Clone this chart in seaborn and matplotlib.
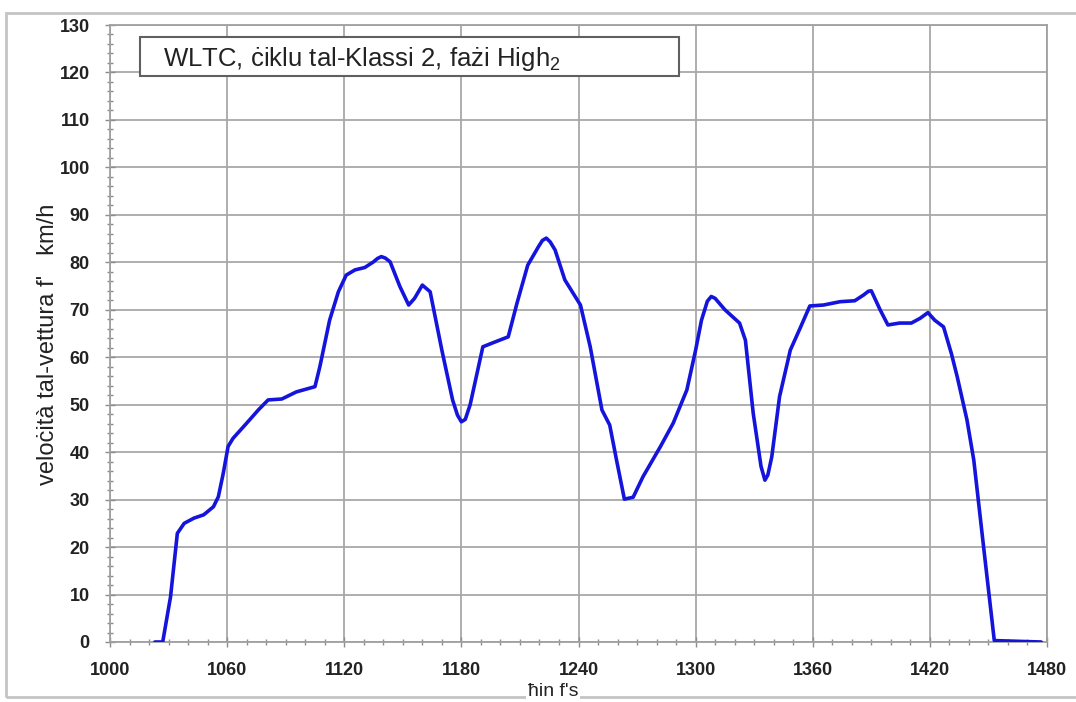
import matplotlib
matplotlib.use('Agg')
import matplotlib.pyplot as plt
import seaborn as sns
import pandas as pd
from matplotlib.patches import Rectangle
from matplotlib.ticker import MultipleLocator

# ---- data ----
time_s = [1023, 1027, 1031, 1034.5, 1038, 1043, 1048, 1053, 1055.5, 1058,
          1060.5, 1063, 1070, 1076, 1081, 1088, 1095.5, 1105, 1107.5, 1112.5,
          1117, 1121, 1125.5, 1130.5, 1135, 1137, 1139, 1141, 1143.5, 1148.5,
          1153, 1156, 1160, 1164, 1170, 1175.5, 1178, 1180, 1182, 1184.5,
          1191, 1196.5, 1204, 1208.5, 1214, 1219.5, 1221.5, 1223.5, 1225.5, 1228,
          1233, 1241, 1246, 1252, 1256, 1259.5, 1263.5, 1268, 1273, 1282,
          1288.5, 1295.5, 1300, 1303, 1306, 1308, 1310, 1315, 1322.5, 1325.5,
          1329.5, 1333.5, 1335.5, 1337, 1339, 1343, 1348.5, 1353.5, 1358.5, 1365.5,
          1374, 1381.5, 1386, 1388.5, 1390, 1394.5, 1398.5, 1404.5, 1410.5, 1415,
          1419, 1422.5, 1427, 1431, 1434, 1439, 1442.5, 1447.5, 1453, 1477]
speed_kmh = [0, 0, 9.5, 22.9, 25.0, 26.1, 26.8, 28.5, 30.6, 35.5,
             41.2, 42.9, 46.1, 48.9, 51.0, 51.2, 52.7, 53.8, 58.0, 67.8,
             73.8, 77.3, 78.4, 78.9, 80.1, 80.8, 81.2, 80.9, 80.1, 74.9,
             71.0, 72.4, 75.2, 73.8, 61.5, 51.0, 47.8, 46.4, 46.9, 50.0,
             62.2, 63.1, 64.3, 71.4, 79.4, 83.3, 84.6, 85.1, 84.3, 82.6,
             76.3, 71.0, 62.2, 48.9, 45.7, 38.3, 30.1, 30.5, 34.8, 41.2,
             46.1, 53.1, 61.5, 67.8, 71.8, 72.8, 72.4, 70.0, 67.2, 63.6,
             48.2, 37.0, 34.1, 35.2, 39.0, 51.7, 61.5, 66.1, 70.8, 71.0,
             71.7, 71.9, 73.1, 73.9, 74.0, 70.0, 66.8, 67.2, 67.2, 68.2,
             69.4, 67.8, 66.4, 60.8, 55.9, 46.8, 38.3, 20.1, 0.3, 0]
x_ticks = [1000, 1060, 1120, 1180, 1240, 1300, 1360, 1420, 1480]
y_ticks = [0, 10, 20, 30, 40, 50, 60, 70, 80, 90, 100, 110, 120, 130]
title_text = "WLTC, ċiklu tal-Klassi 2, fażi High$_2$"
y_label = "veloċità tal-vettura f'   km/h"
x_label = "ħin f's"

sns.set_style('white')
plt.rcParams['font.family'] = ['Liberation Sans', 'DejaVu Sans']
plt.rcParams['mathtext.fontset'] = 'custom'
plt.rcParams['mathtext.rm'] = 'Liberation Sans'
plt.rcParams['mathtext.it'] = 'Liberation Sans:italic'
plt.rcParams['mathtext.bf'] = 'Liberation Sans:bold'

W, H = 1076, 702
fig = plt.figure(figsize=(W / 100, H / 100), dpi=100)
ax = fig.add_axes([110 / W, 1 - 642 / H, 937 / W, 617 / H])

df = pd.DataFrame({'t': time_s, 'v': speed_kmh})
sns.lineplot(data=df, x='t', y='v', ax=ax, color='#1414dc', linewidth=2.6,
             zorder=4, solid_joinstyle='round', solid_capstyle='round')

ax.set_xlim(1000, 1480)
ax.set_ylim(0, 130)
ax.set_xticks(x_ticks)
ax.set_yticks(y_ticks)
ax.xaxis.set_minor_locator(MultipleLocator(10))
ax.yaxis.set_minor_locator(MultipleLocator(2))
ax.grid(True, which='major', color='#a8a8a8', linewidth=1.3)
ax.set_axisbelow(True)
for s in ax.spines.values():
    s.set_color('#a0a0a0')
    s.set_linewidth(1.3)
ax.tick_params(which='both', bottom=True, left=True, top=False, right=False,
               direction='inout', color='#8c8c8c', width=1.0)
ax.tick_params(which='major', length=7, pad=11, labelsize=13)
ax.tick_params(which='minor', length=5)
for lbl in ax.get_xticklabels() + ax.get_yticklabels():
    lbl.set_fontweight('bold')
    lbl.set_color('#222222')
ax.set_xlabel('')
ax.set_ylabel('')

# title box
ax.add_patch(Rectangle((1015.4, 119.3), 276.1, 8.2, facecolor='white',
                       edgecolor='#606060', linewidth=1.5, zorder=5))
ax.text(1027.3, 121.3, title_text, fontsize=18.5, va='baseline', ha='left',
        color='#222222', zorder=6)

# axis labels
fig.text(48 / W, 1 - 344 / H, y_label, rotation=90, ha='center', va='center',
         fontsize=17, color='#222222')
fig.text(553 / W, 1 - 692 / H, x_label, ha='center', va='center', fontsize=14,
         color='#222222', zorder=10,
         bbox=dict(facecolor='white', edgecolor='none', pad=1))

# outer frame
fig.add_artist(Rectangle((6 / W, 1 - 697 / H), 1.2, (697 - 13) / H,
                         transform=fig.transFigure, facecolor='none',
                         edgecolor='#c4c4c4', linewidth=2, zorder=0))

fig.savefig('out.png', dpi=100)
